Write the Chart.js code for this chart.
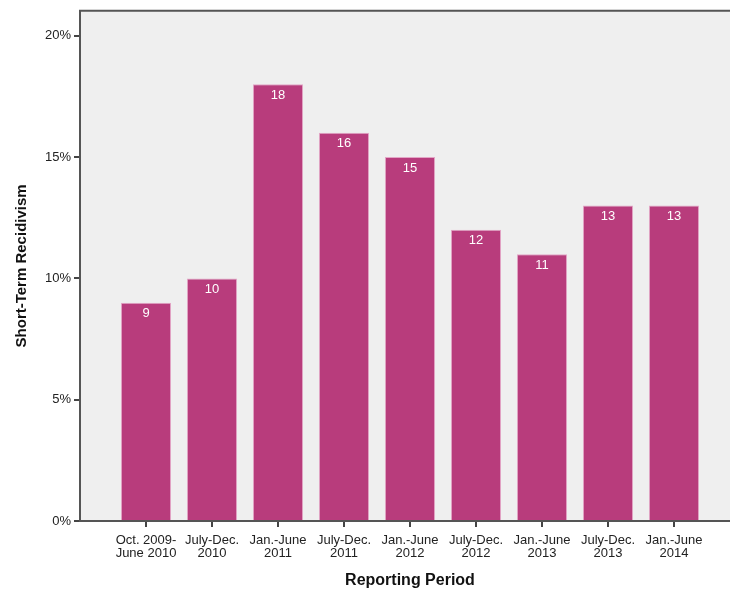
<!DOCTYPE html>
<html>
<head>
<meta charset="utf-8">
<script src="https://cdn.jsdelivr.net/npm/chart.js@4"></script>
<style>
html,body{margin:0;padding:0;background:#fff;overflow:hidden;width:730px;height:590px;}
#wrap{position:relative;width:750px;height:590px;}
</style>
</head>
<body>
<div id="wrap"><canvas id="c" width="750" height="590"></canvas></div>
<script>
const categories = [
  ["Oct. 2009-", "June 2010"],
  ["July-Dec.", "2010"],
  ["Jan.-June", "2011"],
  ["July-Dec.", "2011"],
  ["Jan.-June", "2012"],
  ["July-Dec.", "2012"],
  ["Jan.-June", "2013"],
  ["July-Dec.", "2013"],
  ["Jan.-June", "2014"]
];
const recidivism = [9, 10, 18, 16, 15, 12, 11, 13, 13];
const yTicks = [0, 5, 10, 15, 20];

const points = recidivism.map((v, i) => ({x: i + 1, y: v}));

const bgPlugin = {
  id: 'bg',
  beforeDraw(chart) {
    const {ctx, chartArea: a} = chart;
    ctx.save();
    ctx.fillStyle = '#efefef';
    ctx.fillRect(a.left, a.top, a.right - a.left, a.bottom - a.top);
    ctx.restore();
  },
  afterDraw(chart) {
    const {ctx, chartArea: a} = chart;
    ctx.save();
    ctx.strokeStyle = '#555';
    ctx.lineWidth = 2;
    ctx.beginPath();
    ctx.moveTo(a.left - 1, a.top);
    ctx.lineTo(a.right, a.top);
    ctx.stroke();
    ctx.restore();
  }
};

const labelPlugin = {
  id: 'vals',
  afterDatasetsDraw(chart) {
    const {ctx} = chart;
    const meta = chart.getDatasetMeta(0);
    ctx.save();
    ctx.fillStyle = '#ffffff';
    ctx.font = '13px "Liberation Sans", Arial, sans-serif';
    ctx.textAlign = 'center';
    ctx.textBaseline = 'middle';
    meta.data.forEach((el, i) => {
      ctx.fillText(String(recidivism[i]), el.x, el.y + 11);
    });
    ctx.restore();
  }
};

new Chart(document.getElementById('c'), {
  type: 'bar',
  data: {
    datasets: [{
      data: points,
      backgroundColor: '#b83c7c',
      borderColor: '#e3a6c6',
      borderWidth: 1,
      barPercentage: 0.76,
      categoryPercentage: 1.0
    }]
  },
  plugins: [bgPlugin, labelPlugin],
  options: {
    responsive: false,
    animation: false,
    events: [],
    layout: {padding: {top: 10, right: 10, left: 0, bottom: 0}},
    plugins: {legend: {display: false}, tooltip: {enabled: false}},
    scales: {
      x: {
        type: 'linear',
        min: 0,
        max: 10,
        offset: false,
        afterBuildTicks(scale) {
          scale.ticks = categories.map((c, i) => ({value: i + 1}));
        },
        afterFit(scale) { scale.height = 69; },
        ticks: {
          autoSkip: false,
          maxRotation: 0,
          padding: 7,
          color: '#222',
          font: {family: '"Liberation Sans", Arial, sans-serif', size: 13, lineHeight: 1.0},
          callback(v) { return categories[v - 1] || ''; }
        },
        grid: {offset: false, drawOnChartArea: false, drawTicks: true, tickLength: 6, color: '#444', lineWidth: 2},
        border: {display: true, color: '#555', width: 2},
        title: {
          display: true,
          text: 'Reporting Period',
          color: '#111',
          font: {family: '"Liberation Sans", Arial, sans-serif', size: 16, weight: 'bold'},
          padding: {top: 0, bottom: 0}
        }
      },
      y: {
        min: 0,
        max: 21.03,
        afterBuildTicks(scale) {
          scale.ticks = yTicks.map(v => ({value: v}));
        },
        afterFit(scale) { scale.width = 80; },
        ticks: {
          padding: 3,
          color: '#222',
          font: {family: '"Liberation Sans", Arial, sans-serif', size: 13},
          callback(v) { return v + '%'; }
        },
        grid: {drawOnChartArea: false, drawTicks: true, tickLength: 6, color: '#444', lineWidth: 2},
        border: {display: true, color: '#555', width: 2},
        title: {
          display: true,
          text: 'Short-Term Recidivism',
          color: '#111',
          font: {family: '"Liberation Sans", Arial, sans-serif', size: 15, weight: 'bold'},
          padding: {top: 13, bottom: 0}
        }
      }
    }
  }
});
</script>
</body>
</html>
